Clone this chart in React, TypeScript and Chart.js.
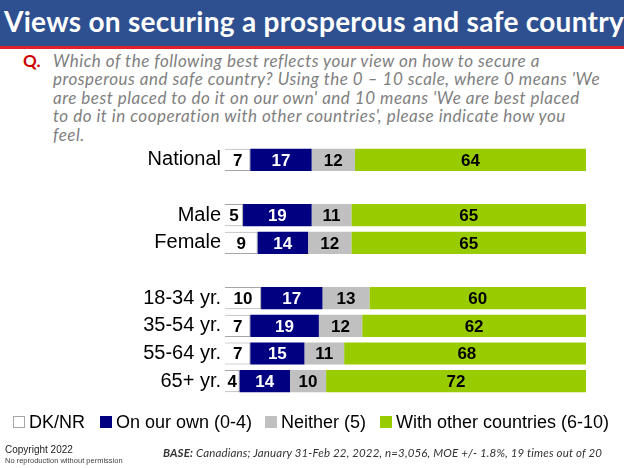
import React, { useEffect, useRef } from "react";
import { Chart, registerables } from "chart.js";

Chart.register(...registerables);

const categories = ["National", "", "Male", "Female", "", "18-34 yr.", "35-54 yr.", "55-64 yr.", "65+ yr."];
const dkNr = [7, null, 5, 9, null, 10, 7, 7, 4];
const onOwn = [17, null, 19, 14, null, 17, 19, 15, 14];
const neither = [12, null, 11, 12, null, 13, 12, 11, 10];
const withOthers = [64, null, 65, 65, null, 60, 62, 68, 72];
const seriesNames = ["DK/NR", "On our own (0-4)", "Neither (5)", "With other countries (6-10)"];
const seriesColors = ["#FFFFFF", "#000080", "#C0C0C0", "#99CC00"];
const labelColors = ["#000000", "#FFFFFF", "#000000", "#000000"];

const questionLines = [
  "Which of the following best reflects your view on how to secure a",
  "prosperous and safe country? Using the 0 \u2013 10 scale, where 0 means 'We",
  "are best placed to do it on our own' and 10 means 'We are best placed",
  "to do it in cooperation with other countries', please indicate how you",
  "feel.",
];

const valueLabelPlugin = {
  id: "valueLabels",
  afterDatasetsDraw(chart: any) {
    const ctx = chart.ctx;
    ctx.save();
    ctx.font = "bold 17px Arial, 'Liberation Sans', sans-serif";
    ctx.textAlign = "center";
    ctx.textBaseline = "middle";
    chart.data.datasets.forEach((ds: any, di: number) => {
      const meta = chart.getDatasetMeta(di);
      meta.data.forEach((bar: any, i: number) => {
        const v = ds.data[i];
        if (v == null) return;
        ctx.fillStyle = labelColors[di];
        ctx.fillText(String(v), (bar.x + bar.base) / 2, bar.y + 1);
      });
    });
    ctx.restore();
  },
};

export default function App() {
  const canvasRef = useRef<HTMLCanvasElement>(null);
  useEffect(() => {
    document.body.style.margin = "0";
    const allData = [dkNr, onOwn, neither, withOthers];
    const chart = new Chart(canvasRef.current as HTMLCanvasElement, {
      type: "bar",
      data: {
        labels: categories,
        datasets: allData.map((d, i) => ({
          label: seriesNames[i],
          data: d,
          backgroundColor: seriesColors[i],
          borderColor: i === 0 ? "#A6A6A6" : seriesColors[i],
          borderWidth: i === 0 ? 1 : 0,
          barPercentage: 0.8,
          categoryPercentage: 1.0,
        })),
      },
      options: {
        indexAxis: "y",
        animation: false,
        responsive: false,
        devicePixelRatio: 1,
        layout: { padding: { top: 146, bottom: 73, left: 0, right: 38 } },
        plugins: { legend: { display: false }, tooltip: { enabled: false } },
        scales: {
          x: { stacked: true, min: 0, max: 100, display: false },
          y: {
            stacked: true,
            grid: { display: false, drawTicks: false },
            border: { display: false },
            ticks: {
              color: "#000000",
              padding: 4,
              font: { family: "Arial, 'Liberation Sans', sans-serif", size: 20 },
            },
            afterFit: (scale: any) => {
              scale.width = 225;
            },
          },
        },
      },
      plugins: [valueLabelPlugin],
    } as any);
    return () => chart.destroy();
  }, []);

  const legendItems = [
    { left: 13, text: seriesNames[0], color: "#FFFFFF", border: "#A6A6A6" },
    { left: 100, text: seriesNames[1], color: seriesColors[1], border: seriesColors[1] },
    { left: 265, text: seriesNames[2], color: seriesColors[2], border: seriesColors[2] },
    { left: 380, text: seriesNames[3], color: seriesColors[3], border: seriesColors[3] },
  ];

  return (
    <div style={{ position: "absolute", left: 0, top: 0, width: 624, height: 468, overflow: "hidden", background: "#fff" }}>
      <div style={{ position: "absolute", left: 0, top: 0, width: 624, height: 46, background: "#2E5090" }} />
      <div style={{ position: "absolute", left: 0, top: 46, width: 624, height: 3, background: "#E0202A" }} />
      <div
        style={{
          position: "absolute",
          left: 4,
          top: 4,
          color: "#fff",
          fontFamily: "Lato, 'DejaVu Sans', sans-serif",
          fontWeight: 700,
          fontSize: 28,
          letterSpacing: 0.28,
          whiteSpace: "nowrap",
          lineHeight: "34px",
        }}
      >
        Views on securing a prosperous and safe country
      </div>
      <div
        style={{
          position: "absolute",
          left: 23,
          top: 52,
          color: "#CC0000",
          fontFamily: "Lato, sans-serif",
          fontWeight: 700,
          fontSize: 17,
          lineHeight: "18.4px",
        }}
      >
        Q.
      </div>
      <div
        style={{
          position: "absolute",
          left: 53,
          top: 52,
          color: "#7F7F7F",
          fontFamily: "Lato, sans-serif",
          fontStyle: "italic",
          fontSize: 17,
          letterSpacing: 0.5,
          lineHeight: "18.4px",
          whiteSpace: "nowrap",
        }}
      >
        {questionLines.map((l, i) => (
          <div key={i}>{l}</div>
        ))}
      </div>
      <canvas ref={canvasRef} width={624} height={468} style={{ position: "absolute", left: 0, top: 0, width: 624, height: 468 }} />
      {legendItems.map((it, i) => (
        <div
          key={i}
          style={{
            position: "absolute",
            left: it.left,
            top: 411,
            height: 22,
            display: "flex",
            alignItems: "center",
            fontFamily: "Arial, 'Liberation Sans', sans-serif",
            fontSize: 18,
            color: "#000",
            whiteSpace: "nowrap",
          }}
        >
          <span
            style={{
              display: "inline-block",
              width: 10,
              height: 10,
              background: it.color,
              border: `1px solid ${it.border}`,
              marginRight: 4,
            }}
          />
          {it.text}
        </div>
      ))}
      <div
        style={{
          position: "absolute",
          left: 5,
          top: 444,
          fontFamily: "Arial, 'Liberation Sans', sans-serif",
          fontSize: 10,
          color: "#222",
          lineHeight: "11px",
          whiteSpace: "nowrap",
        }}
      >
        Copyright 2022
      </div>
      <div
        style={{
          position: "absolute",
          left: 5,
          top: 456,
          fontFamily: "Arial, 'Liberation Sans', sans-serif",
          fontSize: 7.5,
          color: "#444",
          lineHeight: "9px",
          whiteSpace: "nowrap",
        }}
      >
        No reproduction without permission
      </div>
      <div
        style={{
          position: "absolute",
          left: 163,
          top: 445,
          fontFamily: "Lato, sans-serif",
          fontStyle: "italic",
          fontSize: 11.5,
          letterSpacing: 0.15,
          color: "#333",
          lineHeight: "16px",
          whiteSpace: "nowrap",
        }}
      >
        <b>BASE:</b> Canadians; January 31-Feb 22, 2022, n=3,056, MOE +/- 1.8%, 19 times out of 20
      </div>
    </div>
  );
}
